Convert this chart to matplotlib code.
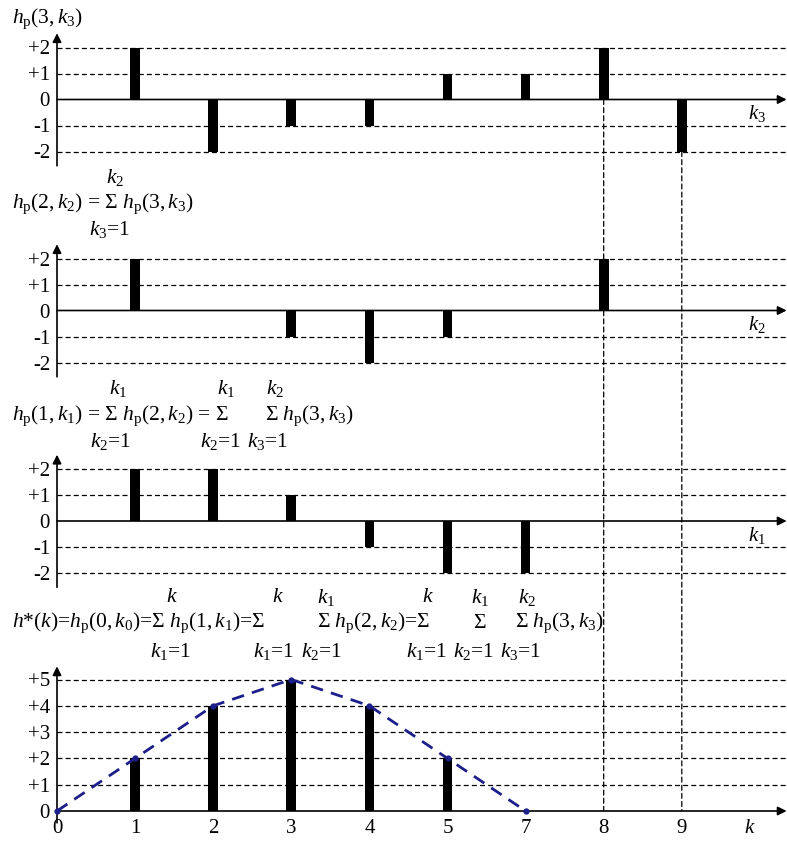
import numpy as np
import matplotlib
matplotlib.use("Agg")
import matplotlib.pyplot as plt
from matplotlib.patches import ConnectionPatch

plt.rcParams["font.family"] = "Liberation Serif"
plt.rcParams["mathtext.fontset"] = "custom"
plt.rcParams["mathtext.rm"] = "Liberation Serif"
plt.rcParams["mathtext.it"] = "Liberation Serif:italic"

# data: bar positions (index along the k axis) and the four stages
positions = [1, 2, 3, 4, 5, 6, 7, 8]
hp3 = [2, -2, -1, -1, 1, 1, 2, -2]
hp2 = [2, 0, -1, -2, -1, 0, 2, 0]
hp1 = [2, 2, 1, -1, -2, -2, 0, 0]
hstar = [2, 4, 5, 4, 2, 0, 0, 0]

curve_pos = [0, 1, 2, 3, 4, 5, 6]
curve_val = [0, 2, 4, 5, 4, 2, 0]

x_tick_pos = [0, 1, 2, 3, 4, 5, 6, 7, 8]
x_tick_labels = ["0", "1", "2", "3", "4", "5", "7", "8", "9"]
guide_pos = [7, 8]

small_ticks = [2, 1, 0, -1, -2]
small_labels = ["+2", "+1", "0", "-1", "-2"]
big_ticks = [5, 4, 3, 2, 1, 0]
big_labels = ["+5", "+4", "+3", "+2", "+1", "0"]

W, H = 787, 843
X0, UX = 57, 78.1
XMAX = (W - X0) / UX
FS = 15
FT = 15.5

fig = plt.figure(figsize=(W / 100, H / 100), dpi=100)


def add_panel(zero_px, unit_px, lo, hi):
    top = zero_px - hi * unit_px
    bottom = zero_px - lo * unit_px
    ax = fig.add_axes([X0 / W, 1 - bottom / H, (W - X0) / W, (bottom - top) / H])
    ax.set_xlim(0, XMAX)
    ax.set_ylim(lo, hi)
    ax.patch.set_alpha(0)
    for s in ax.spines.values():
        s.set_visible(False)
    ax.tick_params(length=0, labelsize=FS, pad=5)
    ax.set_xticks([])
    return ax


def dress(ax, vals, ticks, labels, grid, ylo, yhi, xname):
    ax.set_yticks(ticks, labels)
    for g in grid:
        ax.axhline(g, color="k", lw=0.9, ls=(0, (4, 2.5)), zorder=1)
    ax.bar(positions, vals, width=0.125, color="k", zorder=3)
    ax.annotate("", xy=(0, yhi), xytext=(0, ylo), annotation_clip=False,
                arrowprops=dict(arrowstyle="-|>", color="k", lw=1.2,
                                mutation_scale=13, shrinkA=0, shrinkB=0))
    ax.annotate("", xy=(XMAX - 0.005, 0), xytext=(0, 0), annotation_clip=False,
                arrowprops=dict(arrowstyle="-|>", color="k", lw=1.2,
                                mutation_scale=13, shrinkA=0, shrinkB=0))
    if xname:
        ax.text(8.96, -0.55, xname, ha="center", va="center", fontsize=FS)


ax1 = add_panel(99.5, 26, -2.75, 2.75)
dress(ax1, hp3, small_ticks, small_labels, [2, 1, -1, -2], -2.55, 2.55, "$k_3$")
ax2 = add_panel(310.5, 26, -2.75, 2.75)
dress(ax2, hp2, small_ticks, small_labels, [2, 1, -1, -2], -2.55, 2.55, "$k_2$")
ax3 = add_panel(521, 26, -2.75, 2.75)
dress(ax3, hp1, small_ticks, small_labels, [2, 1, -1, -2], -2.55, 2.55, "$k_1$")
ax4 = add_panel(811, 26.3, -0.1, 5.6)
dress(ax4, hstar, big_ticks, big_labels, [5, 4, 3, 2, 1], -0.45, 5.5, None)
ax4.set_xticks(x_tick_pos + [8.87], x_tick_labels + ["$k$"])
ax4.tick_params(axis="x", pad=4)
ax4.plot(curve_pos, curve_val, color="#1c1f8a", lw=2.0, ls=(0, (4.5, 3)),
         marker="o", markersize=3.5, zorder=4, clip_on=False)

# vertical guides from the top stage down to the k axis
for p in guide_pos:
    v = hp3[positions.index(p)]
    con = ConnectionPatch(xyA=(p, min(v, 0)), coordsA=ax1.transData,
                          xyB=(p, 0), coordsB=ax4.transData,
                          color="k", lw=0.9, ls=(0, (4, 2.5)), zorder=0)
    fig.add_artist(con)


def put(x, y, s, ha="left"):
    fig.text(x / W, 1 - y / H, s, ha=ha, va="center", fontsize=FT)


put(12, 19, r"$h_{\rm p}(3,k_3)$")

put(115, 177, "$k_2$", "center")
put(12, 204, r"$h_{\rm p}(2,k_2)$ = Σ $h_{\rm p}(3,k_3)$")
put(110, 229, r"$k_3$=1", "center")

for x, s in [(118, "$k_1$"), (226, "$k_1$"), (275, "$k_2$")]:
    put(x, 389, s, "center")
put(12, 416, r"$h_{\rm p}(1,k_1)$ = Σ $h_{\rm p}(2,k_2)$ = Σ")
put(265, 416, r"Σ $h_{\rm p}(3,k_3)$")
for x, s in [(111, "$k_2$=1"), (221, "$k_2$=1"), (268, "$k_3$=1")]:
    put(x, 442, s, "center")

for x, s in [(172, "$k$"), (278, "$k$"), (326, "$k_1$"),
             (428, "$k$"), (480, "$k_1$"), (527, "$k_2$")]:
    put(x, 598, s, "center")
put(12, 623, r"$h$*($k$)=$h_{\rm p}(0,k_0)$=Σ $h_{\rm p}(1,k_1)$=Σ")
put(317, 623, r"Σ $h_{\rm p}(2,k_2)$=Σ")
put(473, 623, "Σ")
put(515, 623, r"Σ $h_{\rm p}(3,k_3)$")
for x, s in [(171, "$k_1$=1"), (274, "$k_1$=1"), (322, "$k_2$=1"),
             (427, "$k_1$=1"), (474, "$k_2$=1"), (521, "$k_3$=1")]:
    put(x, 652, s, "center")

fig.savefig("out.png", dpi=100)
